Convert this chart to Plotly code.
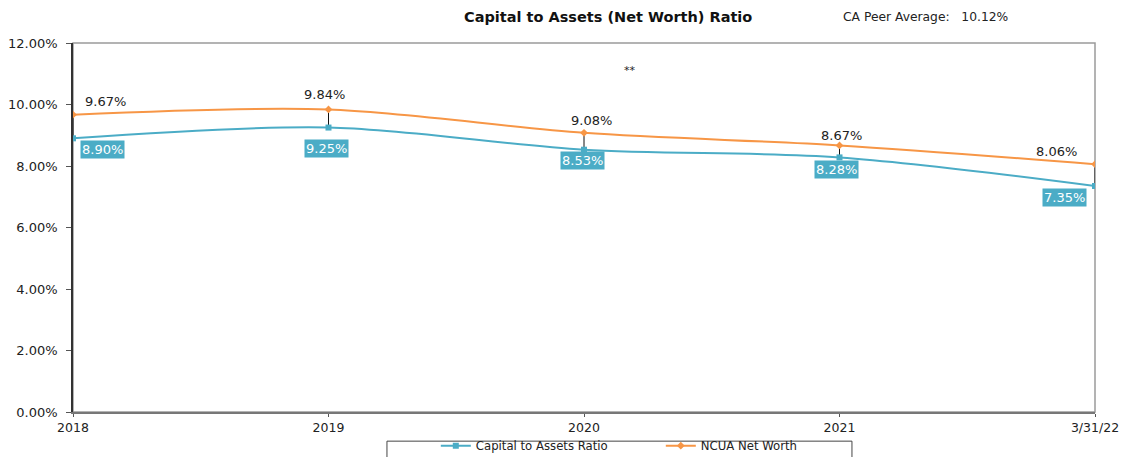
import plotly.graph_objects as go

# Period labels and ratio values (percent)
periods = ["2018", "2019", "2020", "2021", "3/31/22"]
capital_to_assets = [8.90, 9.25, 8.53, 8.28, 7.35]
ncua_net_worth = [9.67, 9.84, 9.08, 8.67, 8.06]
y_ticks = [0, 2, 4, 6, 8, 10, 12]
peer_average = 10.12

# label placement (pixel offsets from each point)
blue_label_dx = [7, -2, -2, -3, -8]
blue_label_dy = [-2, -11, -1, -3, -2]
orange_label_dx = [10, -4, 7, 2, -16]
orange_label_dy = [13, 15, 12, 10, 13]

BLUE = "#4bacc6"
ORANGE = "#f79646"
FONT = "DejaVu Sans, Verdana, sans-serif"

xs = list(range(len(periods)))
n = len(xs)

fig = go.Figure()

# high-low connectors between the two series
hl_x, hl_y = [], []
for i, (a, b) in enumerate(zip(capital_to_assets, ncua_net_worth)):
    hl_x += [i, i, None]
    hl_y += [a, b, None]
fig.add_trace(go.Scatter(x=hl_x, y=hl_y, mode="lines",
                         line=dict(color="#111111", width=1),
                         showlegend=False, hoverinfo="skip"))

fig.add_trace(go.Scatter(
    x=xs, y=capital_to_assets, name="Capital to Assets Ratio",
    mode="lines+markers", line=dict(color=BLUE, width=2, shape="spline", smoothing=0.9),
    marker=dict(symbol="square", size=6, color=BLUE)))
fig.add_trace(go.Scatter(
    x=xs, y=ncua_net_worth, name="NCUA Net Worth",
    mode="lines+markers", line=dict(color=ORANGE, width=2, shape="spline", smoothing=0.9),
    marker=dict(symbol="diamond", size=6, color=ORANGE)))

annotations = []
for i, (a, b) in enumerate(zip(capital_to_assets, ncua_net_worth)):
    if i == 0:
        xa = "left"
    elif i == n - 1:
        xa = "right"
    else:
        xa = "center"
    annotations.append(dict(
        x=i, y=a, xref="x", yref="y", text=f"{a:.2f}%", showarrow=False,
        xanchor=xa, yanchor="top", xshift=blue_label_dx[i], yshift=blue_label_dy[i],
        bgcolor=BLUE, borderpad=1,
        font=dict(family=FONT, size=13, color="white")))
    annotations.append(dict(
        x=i, y=b, xref="x", yref="y", text=f"{b:.2f}%", showarrow=False,
        xanchor=xa, yanchor="middle", xshift=orange_label_dx[i], yshift=orange_label_dy[i],
        font=dict(family=FONT, size=13, color="#222222")))

annotations += [
    dict(x=0.523, y=1.07, xref="paper", yref="paper",
         text="<b>Capital to Assets (Net Worth) Ratio</b>", showarrow=False,
         xanchor="center", yanchor="middle", font=dict(family=FONT, size=14.5, color="#111111")),
    dict(x=0.751, y=1.07, xref="paper", yref="paper",
         text=f"CA Peer Average:   {peer_average:.2f}%", showarrow=False,
         xanchor="left", yanchor="middle", font=dict(family=FONT, size=12.3, color="#222222")),
    dict(x=0.545, y=0.925, xref="paper", yref="paper", text="**", showarrow=False,
         xanchor="center", yanchor="middle", font=dict(family=FONT, size=11, color="#222222")),
]

fig.update_layout(
    width=1127, height=457, autosize=False,
    margin=dict(l=73, r=32, t=43, b=45, autoexpand=False),
    paper_bgcolor="white", plot_bgcolor="white",
    font=dict(family=FONT, size=13, color="#222222"),
    showlegend=True,
    legend=dict(orientation="h", x=0.355, xanchor="left", y=-0.052, yanchor="top",
                borderwidth=0, bgcolor="rgba(0,0,0,0)",
                entrywidth=180, entrywidthmode="pixels", itemwidth=30,
                font=dict(family=FONT, size=11.7, color="#222222")),
    annotations=annotations,
    shapes=[
        dict(type="rect", xref="paper", yref="paper", x0=0, x1=1, y0=0, y1=1,
             line=dict(color="#9a9a9a", width=1.5), layer="below"),
        # legend frame
        dict(type="rect", xref="paper", yref="paper", x0=0.3072, x1=0.7622,
             y0=-0.079, y1=-0.2, line=dict(color="#444444", width=1), layer="below"),
    ],
)

fig.update_xaxes(range=[0, n - 1], tickvals=xs, ticktext=periods, showgrid=False,
                 zeroline=False, showline=True, linecolor="#777777", linewidth=1.5,
                 ticks="outside", ticklen=3, tickcolor="#555555",
                 tickfont=dict(family=FONT, size=12.5, color="#222222"))
fig.update_yaxes(range=[0, 12], tickvals=y_ticks, ticktext=[f"{v:.2f}%" for v in y_ticks],
                 showgrid=False, zeroline=False, showline=True, linecolor="#333333",
                 linewidth=1.5, ticks="outside", ticklen=5, tickcolor="#555555",
                 ticklabelstandoff=6,
                 tickfont=dict(family=FONT, size=13, color="#222222"))

fig.write_html("out.html")
